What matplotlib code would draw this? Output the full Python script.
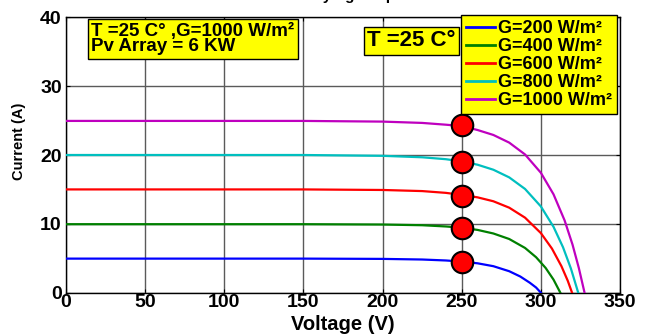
import matplotlib
matplotlib.use("Agg")
import matplotlib.pyplot as plt

plt.rcParams['font.family'] = ['Liberation Sans', 'DejaVu Sans']
plt.rcParams['font.weight'] = 'bold'

labels = ["G=200 W/m²", "G=400 W/m²", "G=600 W/m²", "G=800 W/m²", "G=1000 W/m²"]
colors = ["#0000ff", "#008000", "#ff0000", "#00bfbf", "#bf00bf"]

v_200 = [0, 150, 200, 225, 240, 250, 260, 270, 280, 287, 293, 297, 300]
i_200 = [4.95, 4.95, 4.91, 4.82, 4.68, 4.52, 4.27, 3.85, 3.12, 2.35, 1.45, 0.75, 0.0]

v_400 = [0, 150, 200, 225, 240, 250, 260, 270, 280, 290, 297, 303, 308, 312.3]
i_400 = [9.95, 9.95, 9.9, 9.8, 9.62, 9.44, 9.12, 8.6, 7.8, 6.5, 5.15, 3.6, 1.9, 0.0]

v_600 = [0, 150, 200, 225, 240, 250, 260, 270, 280, 290, 300, 307, 313, 317, 319.7]
i_600 = [15.0, 15.0, 14.92, 14.76, 14.5, 14.2, 13.85, 13.28, 12.35, 10.9, 8.66, 6.41, 3.85, 1.73, 0.0]

v_800 = [0, 150, 200, 225, 240, 250, 260, 270, 280, 290, 300, 308, 314, 319, 323.6]
i_800 = [20.0, 20.0, 19.88, 19.67, 19.39, 19.07, 18.59, 17.86, 16.75, 15.07, 12.53, 9.57, 6.6, 3.5, 0.0]

v_1000 = [0, 150, 200, 225, 240, 250, 260, 270, 280, 290, 300, 308, 315, 320, 324, 327.6]
i_1000 = [24.95, 24.95, 24.85, 24.66, 24.4, 24.2, 23.63, 22.91, 21.8, 20.08, 17.42, 14.29, 10.5, 6.99, 3.58, 0.0]

curves_v = [v_200, v_400, v_600, v_800, v_1000]
curves_i = [i_200, i_400, i_600, i_800, i_1000]

mpp_v = [250, 250, 250, 250, 250]
mpp_i = [4.5, 9.44, 14.1, 19.03, 24.3]

xticks = [0, 50, 100, 150, 200, 250, 300, 350]
yticks = [0, 10, 20, 30, 40]

W, H = 649, 336
fig = plt.figure(figsize=(W / 100, H / 100), dpi=100)
ax = fig.add_axes([66 / W, 1 - 292.7 / H, (620 - 66) / W, (292.7 - 17.3) / H])

def fx(px):
    return px / W

def fy(py):
    return 1 - py / H

ax.set_xlim(0, 350)
ax.set_ylim(0, 40)
ax.set_xticks(xticks)
ax.set_yticks(yticks)
ax.grid(True, color="#5a5a5a", linewidth=1.0, linestyle='-')
ax.set_axisbelow(True)
ax.tick_params(direction='in', top=True, right=True, length=3, labelsize=14)
ax.tick_params(axis='x', pad=1)
ax.tick_params(axis='y', pad=3)
for lbl in ax.get_xticklabels() + ax.get_yticklabels():
    lbl.set_fontweight('bold')
for sp in ax.spines.values():
    sp.set_linewidth(1.0)

for v, i, c, lab in zip(curves_v, curves_i, colors, labels):
    ax.plot(v, i, color=c, linewidth=1.6, label=lab, zorder=3)

ax.plot(mpp_v, mpp_i, linestyle='none', marker='o', markersize=15.5,
        markerfacecolor='#ff0000', markeredgecolor='black', markeredgewidth=1.5, zorder=4)

ax.set_xlabel("Voltage (V)", fontsize=14.5, fontweight='bold')
ax.xaxis.set_label_coords(0.5, -0.08)
ax.xaxis.label.set_va('top')
ax.set_ylabel("Current (A)", fontsize=10.5, fontweight='bold')
ax.yaxis.set_label_coords(-0.072, 0.55)

leg = ax.legend(loc='upper right', bbox_to_anchor=(fx(617), fy(15)),
                bbox_transform=fig.transFigure, fontsize=13, frameon=True,
                fancybox=False, handlelength=1.6, handletextpad=0.15,
                labelspacing=0.05, borderpad=0.3, borderaxespad=0)
leg.set_zorder(10)
leg.get_frame().set_facecolor('#ffff00')
leg.get_frame().set_edgecolor('black')
leg.get_frame().set_alpha(1)
leg.get_frame().set_linewidth(1.0)
for t in leg.get_texts():
    t.set_fontweight('bold')
for h in leg.get_lines():
    h.set_linewidth(2)

ax.text(fx(91.5), fy(39), "T =25 C° ,G=1000 W/m²\nPv Array = 6 KW",
        transform=fig.transFigure, zorder=6,
        ha='left', va='center', fontsize=13.5, fontweight='bold', linespacing=0.85,
        bbox=dict(boxstyle='square,pad=0.2', facecolor='#ffff00', edgecolor='black', linewidth=1.0))

ax.text(fx(367), fy(41), "T =25 C°",
        transform=fig.transFigure, zorder=6,
        ha='left', va='center', fontsize=16, fontweight='bold',
        bbox=dict(boxstyle='square,pad=0.15', facecolor='#ffff00', edgecolor='black', linewidth=1.0))

fig.text(fx(300), 1.0, "varying temperature", ha='left', va='baseline',
         fontsize=11, fontweight='bold')

fig.savefig("out.png", dpi=100)
